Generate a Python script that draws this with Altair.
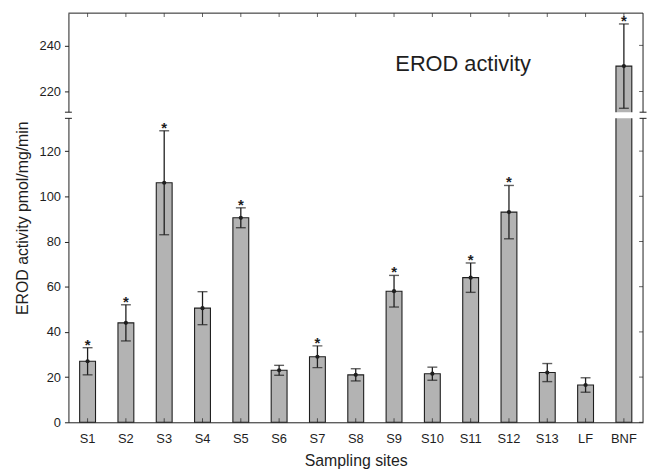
import altair as alt
import pandas as pd

# ---- data ----
sites = ["S1", "S2", "S3", "S4", "S5", "S6", "S7", "S8", "S9", "S10",
         "S11", "S12", "S13", "LF", "BNF"]
means = [27, 44, 106, 50.5, 90.5, 23, 29, 21, 58, 21.5, 64, 93, 22, 16.5, 231]
errors = [6, 8, 23, 7.3, 4.4, 2.2, 4.8, 2.7, 7, 2.9, 6.5, 11.8, 4, 3.2, 18.3]
significant = [1, 1, 1, 0, 1, 0, 1, 0, 1, 0, 1, 1, 0, 0, 1]
y_ticks = [0, 20, 40, 60, 80, 100, 120, 220, 240]
axis_break = [134.5, 211]          # top of lower segment, bottom of upper segment
y_domain = [0, 134.5, 211, 254]

# ---- layout / style ----
W, H = 580, 413
y_range = [H, 106.2, 100, 0]
FONT = "Liberation Sans"
INK = "#1e1e1e"
BAR_FILL = "#b3b3b3"

df = pd.DataFrame({"site": sites, "mean": means, "err": errors, "sig": significant})
df["lo"] = df["mean"] - df["err"]
df["hi"] = df["mean"] + df["err"]
ticks_df = pd.DataFrame({"v": y_ticks})
break_df = pd.DataFrame({"b": axis_break})
gap_df = pd.DataFrame({"lo": [axis_break[0]], "hi": [axis_break[1]]})
one_row = pd.DataFrame({"k": [0]})
sites_df = pd.DataFrame({"site": sites})

yscale = alt.Scale(domain=y_domain, range=y_range, zero=False, nice=False)
xscale = alt.Scale(paddingInner=0.586, paddingOuter=0.293)

x_enc = alt.X("site:N", sort=sites, scale=xscale, title="Sampling sites",
              axis=alt.Axis(title="Sampling sites", orient="bottom", ticks=False,
                            tickSize=0, labelPadding=10, labelAngle=0,
                            labelFontSize=13, titleFontSize=16,
                            titleY=43.5, titleBaseline="alphabetic",
                            domainColor=INK, domainWidth=1))
x_plain = alt.X("site:N", sort=sites, title="Sampling sites")
Y_TITLE = "EROD activity pmol/mg/min"

bars = alt.Chart(df).mark_bar(fill=BAR_FILL, stroke=INK, strokeWidth=1.1).encode(
    x=x_enc,
    y=alt.Y("mean:Q", scale=yscale, title=Y_TITLE,
            axis=alt.Axis(values=y_ticks, format="d", title=Y_TITLE,
                          orient="left", tickSize=4, tickColor=INK, labelPadding=4,
                          labelFontSize=13, titleFontSize=16, titleAngle=270,
                          titleX=-41, titleY=206.5, titleAlign="center",
                          titleBaseline="alphabetic", grid=False,
                          domainColor=INK, domainWidth=1)),
)

top_rule = alt.Chart(one_row).mark_rule(color=INK, strokeWidth=1).encode(
    x=alt.value(0), x2=alt.value(W), y=alt.value(0))
right_rule = alt.Chart(one_row).mark_rule(color=INK, strokeWidth=1).encode(
    x=alt.value(W), y=alt.value(0), y2=alt.value(H))

gap = alt.Chart(gap_df).mark_rect(fill="white").encode(
    y=alt.Y("lo:Q", title=Y_TITLE), y2="hi:Q", x=alt.value(-6), x2=alt.value(W + 6))

break_left = alt.Chart(break_df).mark_rule(color=INK, strokeWidth=1).encode(
    y=alt.Y("b:Q", title=Y_TITLE), x=alt.value(-3.5), x2=alt.value(3.5))
break_right = alt.Chart(break_df).mark_rule(color=INK, strokeWidth=1).encode(
    y=alt.Y("b:Q", title=Y_TITLE), x=alt.value(W - 3.5), x2=alt.value(W + 3.5))

err_rule = alt.Chart(df).mark_rule(color=INK, strokeWidth=1.3).encode(
    x=x_plain, y=alt.Y("lo:Q", title=Y_TITLE), y2="hi:Q")
cap_hi = alt.Chart(df).mark_tick(orient="horizontal", size=10, thickness=1.4, color=INK).encode(
    x=x_plain, y=alt.Y("hi:Q", title=Y_TITLE))
cap_lo = alt.Chart(df).mark_tick(orient="horizontal", size=10, thickness=1.4, color=INK).encode(
    x=x_plain, y=alt.Y("lo:Q", title=Y_TITLE))
dots = alt.Chart(df).mark_circle(size=18, color=INK, opacity=1).encode(
    x=x_plain, y=alt.Y("mean:Q", title=Y_TITLE))
stars = alt.Chart(df).transform_filter("datum.sig == 1").mark_text(
    text="*", fontSize=15, fontWeight="bold", font=FONT, color=INK,
    baseline="alphabetic", dy=2).encode(
    x=x_plain, y=alt.Y("hi:Q", title=Y_TITLE))

right_ticks = alt.Chart(ticks_df).mark_tick(orient="horizontal", size=4, thickness=1, color=INK).encode(
    y=alt.Y("v:Q", title=Y_TITLE), x=alt.value(W - 2))
top_ticks = alt.Chart(sites_df).mark_tick(orient="vertical", size=4, thickness=1, color=INK).encode(
    x=x_plain, y=alt.value(2))
bottom_ticks = alt.Chart(sites_df).mark_tick(orient="vertical", size=4, thickness=1, color=INK).encode(
    x=x_plain, y=alt.value(H - 2))

label = alt.Chart(one_row).mark_text(
    text="EROD activity", font=FONT, fontSize=22, color=INK,
    align="left", baseline="alphabetic").encode(x=alt.value(330), y=alt.value(58.3))

chart = alt.layer(
    bars, top_rule, right_rule, gap, break_left, break_right,
    err_rule, cap_hi, cap_lo, dots, stars,
    right_ticks, top_ticks, bottom_ticks, label,
).properties(
    width=W, height=H,
    autosize=alt.AutoSizeParams(type="none"),
    padding={"left": 61, "top": 3, "right": 4, "bottom": 48},
    background="white",
).configure_view(strokeWidth=0).configure_axis(
    labelFont=FONT, titleFont=FONT, labelColor=INK, titleColor=INK,
    titleFontWeight="normal",
)

chart.save("out.html", embed_options={"renderer": "svg", "actions": False})
